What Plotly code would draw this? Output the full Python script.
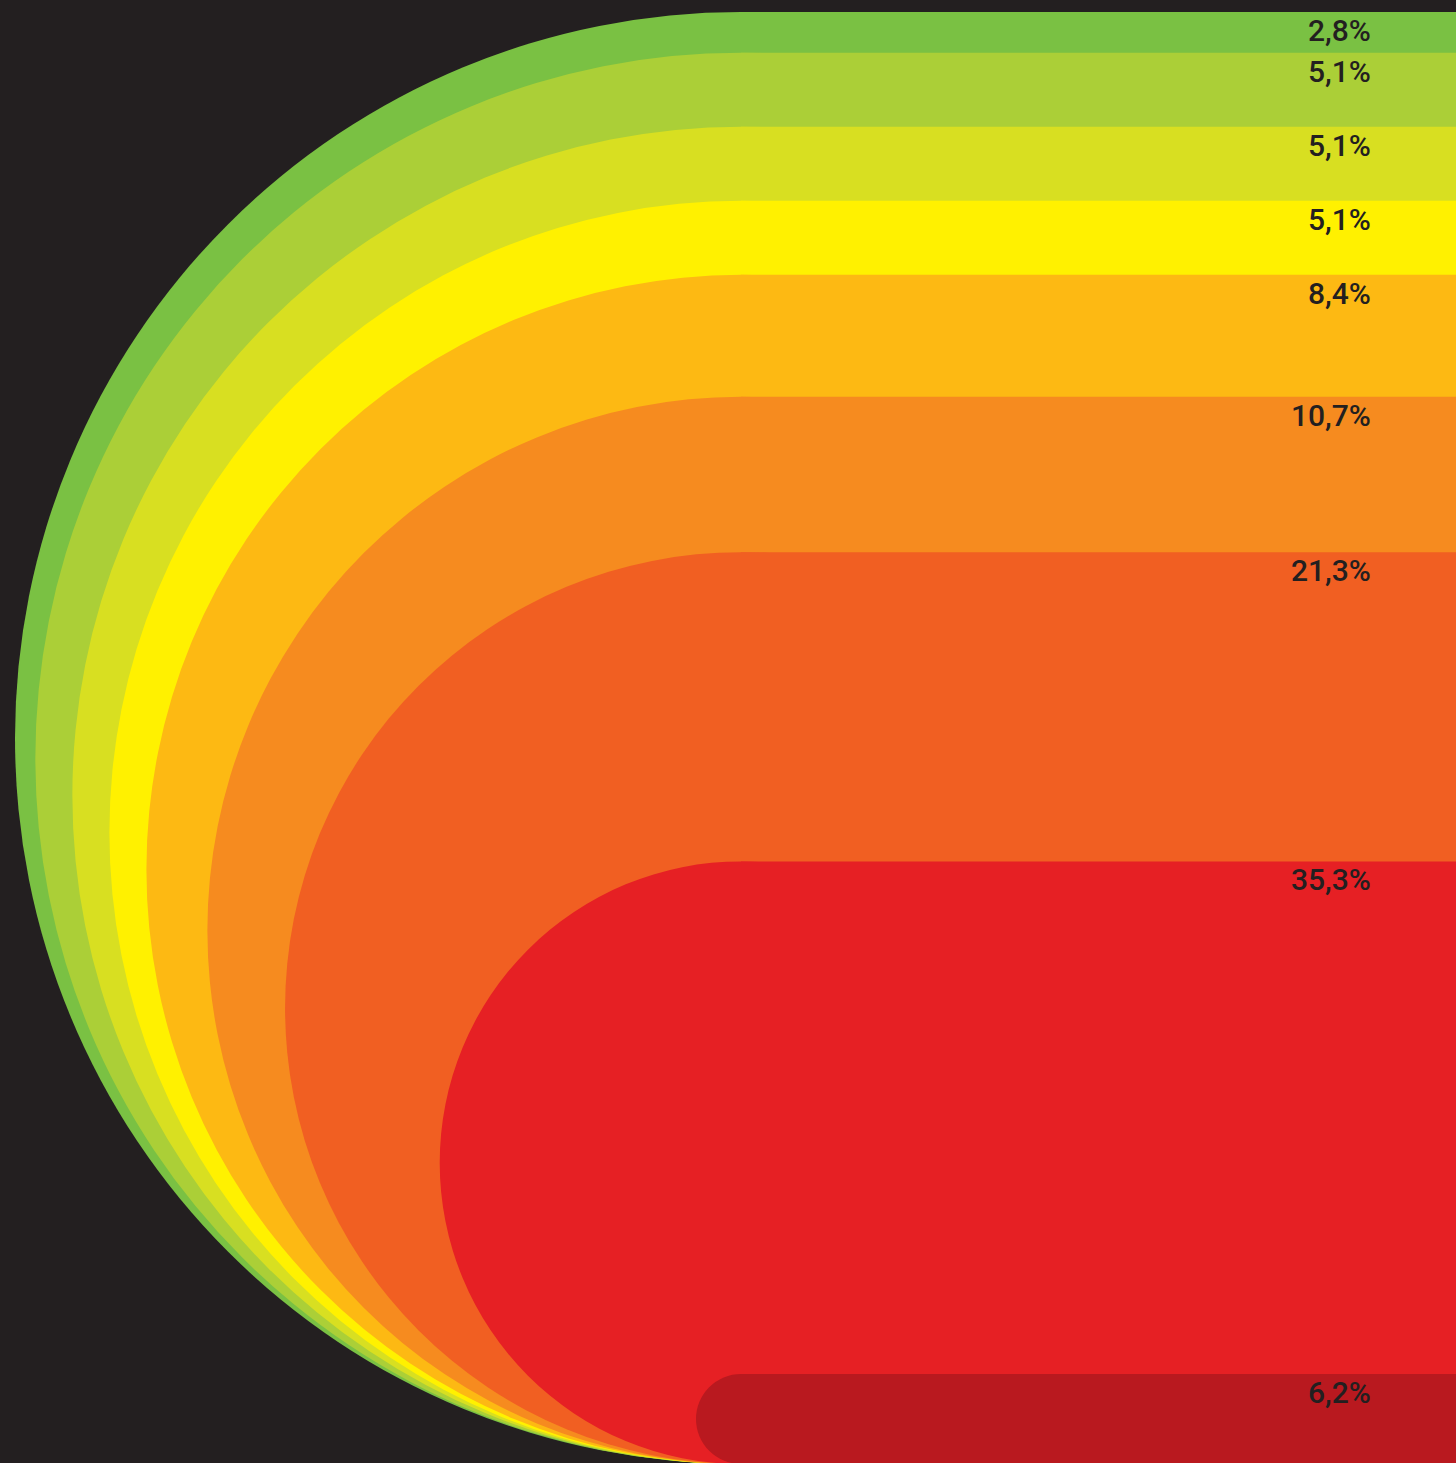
import plotly.graph_objects as go

# Data (top band first)
labels = ["2,8%", "5,1%", "5,1%", "5,1%", "8,4%", "10,7%", "21,3%", "35,3%", "6,2%"]
values = [2.8, 5.1, 5.1, 5.1, 8.4, 10.7, 21.3, 35.3, 6.2]
colors = ["#7ac143", "#abcf37", "#d8df21", "#fff100", "#fdb913",
          "#f68b1f", "#f15f22", "#e62024", "#b9191f"]

BG = "#231f20"
W, H = 1456, 1463
PX_TOP = 12          # pixel of 100% line
PX_BOTTOM = 1464     # pixel of 0% line
PX_CX = 741          # pixel of arc centre line
PX_LABEL = 1373      # right edge of labels

unit = (PX_BOTTOM - PX_TOP) / 100.0   # pixels per percent
x_range = [-PX_CX / unit, (W - PX_CX) / unit]
y_range = [(PX_BOTTOM - H) / unit, PX_BOTTOM / unit]
x_label = (PX_LABEL - PX_CX) / unit

fig = go.Figure()
fig.add_trace(go.Scatter(x=[0], y=[0], mode="markers", marker=dict(opacity=0),
                         hoverinfo="skip", showlegend=False))

shapes = []
annotations = []
for i, (lab, col) in enumerate(zip(labels, colors)):
    top = sum(values[i:])
    r = top / 2.0
    shapes.append(dict(type="circle", xref="x", yref="y", x0=-r, x1=r, y0=0, y1=top,
                       fillcolor=col, line=dict(width=0), layer="below"))
    shapes.append(dict(type="rect", xref="x", yref="y", x0=0, x1=x_range[1] + 5,
                       y0=0, y1=top, fillcolor=col, line=dict(width=0), layer="below"))
    annotations.append(dict(x=x_label, y=top, xref="x", yref="y", text=lab,
                            showarrow=False, xanchor="right", yanchor="top", yshift=1,
                            font=dict(family="Roboto, sans-serif", weight=500,
                                      size=30, color="#231f20")))

fig.update_layout(
    width=W, height=H, autosize=False,
    margin=dict(l=0, r=0, t=0, b=0, pad=0),
    paper_bgcolor=BG, plot_bgcolor=BG,
    shapes=shapes, annotations=annotations,
    xaxis=dict(range=x_range, visible=False, fixedrange=True),
    yaxis=dict(range=y_range, visible=False, fixedrange=True),
    showlegend=False,
)

fig.write_html("out.html", config={"displayModeBar": False},
               post_script="document.body.style.margin='0';")
